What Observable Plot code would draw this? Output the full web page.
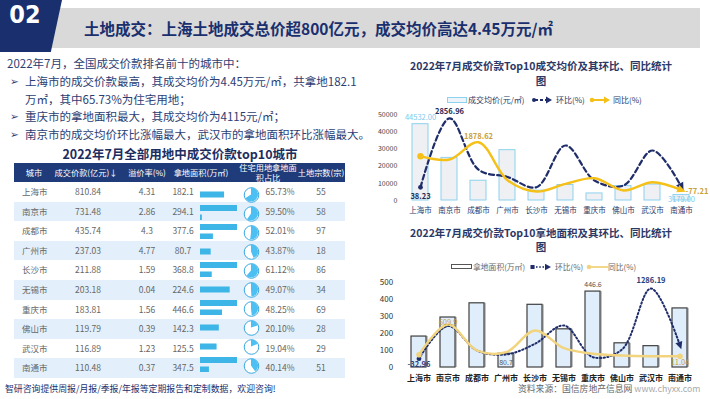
<!DOCTYPE html>
<html><head><meta charset="utf-8">
<script src="https://cdn.jsdelivr.net/npm/d3@7"></script>
<script src="https://cdn.jsdelivr.net/npm/@observablehq/plot@0.6"></script>
<style>
html,body{margin:0;padding:0;}
body{width:710px;height:399px;position:relative;overflow:hidden;background:#fff;font-family:"Noto Sans CJK SC","Noto Sans",sans-serif;}
</style></head><body>
<script>
// ---------- data ----------
const cities = ["上海市","南京市","成都市","广州市","长沙市","无锡市","重庆市","佛山市","武汉市","南通市"];
const dealValue = [810.84,731.48,435.74,237.03,211.88,203.18,183.81,119.79,116.89,110.48];
const premiumRate = [4.31,2.86,4.3,4.77,1.59,0.04,1.56,0.39,1.23,0.37];
const landArea = [182.1,294.1,377.6,80.7,368.8,224.6,446.6,142.3,125.5,347.5];
const residentialShare = [65.73,59.50,52.01,43.87,61.12,49.07,48.25,20.10,19.04,40.14];
const parcelCount = [55,58,97,18,86,34,69,28,29,51];
const avgPrice = [44532,24870,11540,29370,5745,9046,4115,8418,9314,3179];
const priceMoM = [38.23,2856.96,760,460,43,1746,317,113,1542,43];
const priceYoY = [1309,1174,1878.62,330,-132,182,411,-92,247,-77.21];
const areaMoM = [-32.96,580,120,45,246,590,-6,139,1286.19,214];
const areaYoY = [39,609.9,120,88,496,163,58,26,13,11.04];
const priceTicks = [0,10000,20000,30000,40000,50000];
const areaTicks = [0,100,200,300,400,500];
const tableHeaders = ["城市","成交价款(亿元)↓","溢价率(%)","拿地面积(万㎡)","住宅用地拿地面\n积占比","土地宗数(宗)"];

// ---------- helpers ----------
const FONT = '"Noto Sans CJK SC","Noto Sans",sans-serif';
const NS = "http://www.w3.org/2000/svg";
const NAVY = "#1f2d6b", GOLD = "#f5c018", GOLD2 = "#f2d47e", LABELGOLD = "#c9a13a";
const root = document.body;
function el(tag, css, text){const e=document.createElement(tag);e.style.cssText="position:absolute;"+css;if(text!=null)e.textContent=text;root.appendChild(e);return e;}
function place(svg, left, top){const d=el("div",`left:${left}px;top:${top}px;`);d.appendChild(svg);return d;}
function svgBox(left, top, w, h, inner){const s=document.createElementNS(NS,"svg");s.setAttribute("width",w);s.setAttribute("height",h);s.style.cssText=`position:absolute;left:${left}px;top:${top}px;overflow:visible`;s.innerHTML=inner;root.appendChild(s);return s;}
function styleAxis(svg, axis, css){svg.querySelectorAll(`g[aria-label^="${axis}-axis"] text`).forEach(t=>Object.assign(t.style,css));}
function arrowMarker(size){return (color)=>{const m=document.createElementNS(NS,"marker");m.setAttribute("viewBox","-5 -5 10 10");m.setAttribute("markerWidth",size);m.setAttribute("markerHeight",size);m.setAttribute("markerUnits","userSpaceOnUse");m.setAttribute("orient","auto");m.setAttribute("fill",color);m.setAttribute("stroke","none");m.setAttribute("stroke-dasharray","none");const p=document.createElementNS(NS,"path");p.setAttribute("d","M-4,-4L4.5,0L-4,4Z");m.appendChild(p);return m;};}
function dotMarker(size){return (color)=>{const m=document.createElementNS(NS,"marker");m.setAttribute("viewBox","-5 -5 10 10");m.setAttribute("markerWidth",size);m.setAttribute("markerHeight",size);m.setAttribute("markerUnits","userSpaceOnUse");m.setAttribute("fill",color);m.setAttribute("stroke","none");const c=document.createElementNS(NS,"circle");c.setAttribute("r",4);m.appendChild(c);return m;};}
function safePlot(build){try{return build(true);}catch(e){return build(false);}}

// ---------- header ----------
el("div","left:48px;top:8px;width:652px;height:40px;background:#d9d9d9;");
el("div","left:0;top:0;width:62px;height:52px;background:#1a2f6e;clip-path:polygon(0 0,100% 0,82% 100%,0 100%);");
el("div",'left:0;top:0;width:50px;height:52px;line-height:52px;text-align:center;color:#fff;font:bold 25px "DejaVu Sans Condensed","DejaVu Sans",sans-serif;',"02");
el("div",`left:84px;top:14px;line-height:28px;font-size:15.5px;font-weight:bold;color:#1a2f6e;white-space:nowrap;`,"土地成交：上海土地成交总价超800亿元，成交均价高达4.45万元/㎡");

// ---------- summary text ----------
const TXT = "#2c3d73";
const lines = [
  [7,null,"2022年7月，全国成交价款排名前十的城市中："],
  [25,"➢","上海市的成交价款最高，其成交均价为4.45万元/㎡，共拿地182.1"],
  [25,null,"万㎡，其中65.73%为住宅用地；"],
  [25,"➢","重庆市的拿地面积最大，其成交均价为4115元/㎡；"],
  [25,"➢","南京市的成交均价环比涨幅最大，武汉市的拿地面积环比涨幅最大。"]
];
lines.forEach((l,i)=>{
  const top = 55.2 + i*17.75;
  if(l[1]) el("div",`left:10px;top:${top}px;line-height:17.75px;font-size:10.5px;color:${TXT};font-family:"DejaVu Sans",sans-serif;`,l[1]);
  el("div",`left:${l[0]}px;top:${top}px;line-height:17.75px;font-size:11.5px;color:${TXT};white-space:nowrap;`,l[2]);
});

// ---------- table ----------
el("div",`left:30px;top:145px;width:300px;text-align:center;line-height:18px;font-size:12.5px;font-weight:bold;color:#1d2d5e;`,"2022年7月全部用地中成交价款top10城市");
el("div","left:14px;top:163px;width:331px;height:19px;background:#1f3b7a;");
const headCenters = [34,86,147,201,268,321];
tableHeaders.forEach((h,i)=>{
  const two = h.includes("\n");
  el("div",`left:${headCenters[i]-40}px;width:80px;top:163px;height:19px;line-height:${two?9.5:19}px;text-align:center;font-size:8.2px;color:#fff;white-space:pre;`,h);
});
const tTop = 182, rowH = 19.6;
cities.forEach((c,i)=>{
  const top = tTop + i*rowH;
  if(i%2===1) el("div",`left:14px;top:${top}px;width:331px;height:${rowH}px;background:#e3f0fb;`);
  const base = `top:${top}px;height:${rowH}px;line-height:${rowH}px;font-size:8.5px;color:#666;`;
  el("div",`left:22px;${base}`,c);
  const cell=(cx,txt)=>el("div",`left:${cx-30}px;width:60px;text-align:center;${base}`,txt);
  cell(88,dealValue[i].toFixed(2));
  cell(147,String(premiumRate[i]));
  cell(183,landArea[i].toFixed(1));
  cell(280,residentialShare[i].toFixed(2)+"%");
  cell(321,String(parcelCount[i]));
});
const tbl = cities.map((c,i)=>({city:c, area:landArea[i], share:residentialShare[i]}));
const barCap = 280;
const barPlot = Plot.plot({
  width:42, height:196, marginLeft:2, marginRight:3, marginTop:0, marginBottom:0,
  style:{background:"transparent"},
  x:{domain:[0,barCap], axis:null},
  y:{type:"band", domain:cities, padding:0, axis:null},
  marks:[
    Plot.barX(tbl.filter(d=>d.area<=barCap),{y:"city",x:"area",fill:"#3db5e6",insetTop:6.5,insetBottom:6.5}),
    Plot.barX(tbl.filter(d=>d.area>barCap),{y:"city",x:d=>Math.min(d.area,barCap),fill:"#3db5e6",insetTop:1,insetBottom:12}),
    Plot.barX(tbl.filter(d=>d.area>barCap),{y:"city",x:d=>d.area-barCap,fill:"#3db5e6",insetTop:10.5,insetBottom:3})
  ]
});
place(barPlot,198,tTop);
function pieRender(){
  const args = Array.from(arguments);
  const sc = args.find(a=>a && typeof a.y==="function");
  const g = d3.create("svg:g");
  if(!sc) return g.node();
  const bw = typeof sc.y.bandwidth==="function" ? sc.y.bandwidth() : 0;
  const arc = d3.arc().innerRadius(0).outerRadius(7);
  tbl.forEach(d=>{
    g.append("path").attr("transform",`translate(11,${sc.y(d.city)+bw/2})`)
      .attr("d",arc({startAngle:0,endAngle:2*Math.PI*d.share/100}))
      .attr("fill","#4cc0f2");
  });
  return g.node();
}
const piePlot = Plot.plot({
  width:22, height:196, margin:0,
  style:{background:"transparent",overflow:"visible"},
  x:{domain:[0,1],axis:null},
  y:{type:"band", domain:cities, padding:0, axis:null},
  marks:[
    Plot.dot(tbl,{x:()=>0.5,y:"city",r:7.3,fill:"#fff",stroke:"#3aa8e0",strokeWidth:1}),
    pieRender
  ]
});
place(piePlot,240,tTop);

// ---------- chart 1 ----------
el("div",`left:391px;top:57.5px;width:300px;text-align:center;line-height:15px;font-size:10.5px;font-weight:bold;color:#2b3866;`,"");
root.lastChild.innerHTML = "2022年7月成交价款Top10成交均价及其环比、同比统计<br>图";
svgBox(447,97,20,6,`<rect x="0.5" y="0.5" width="19" height="5" fill="#eef5fa" stroke="#8ed2ee"/>`);
el("div",`left:468px;top:94px;line-height:12px;font-size:8px;color:#2b3866;white-space:nowrap;`,"成交均价(元/㎡)");
svgBox(531,95,22,10,`<line x1="4" y1="5" x2="16" y2="5" stroke="${NAVY}" stroke-width="2" stroke-dasharray="3,2"/><circle cx="3" cy="5" r="2" fill="${NAVY}"/><path d="M15,1.5L21,5L15,8.5Z" fill="${NAVY}"/>`);
el("div",`left:556px;top:94px;line-height:12px;font-size:8px;color:#2b3866;white-space:nowrap;`,"环比(%)");
svgBox(589,95,22,10,`<line x1="3" y1="5" x2="16" y2="5" stroke="${GOLD}" stroke-width="2"/><circle cx="3" cy="5" r="2.3" fill="${GOLD}"/><path d="M15,1.5L21,5L15,8.5Z" fill="${GOLD}"/>`);
el("div",`left:613px;top:94px;line-height:12px;font-size:8px;color:#2b3866;white-space:nowrap;`,"同比(%)");

const priceRows = cities.map((c,i)=>({city:c, price:avgPrice[i], mom:priceMoM[i], yoy:priceYoY[i]}));
const dims1 = {width:350, height:117, marginLeft:38.9, marginRight:7.2, marginTop:9.3, marginBottom:22};
const chart1 = Plot.plot({
  ...dims1,
  style:{background:"transparent", fontFamily:FONT, fontSize:"7.5px", color:"#2b3866", overflow:"visible"},
  x:{type:"band", domain:cities, padding:0.45, tickSize:0, tickPadding:7, label:null},
  y:{domain:[0,50000], ticks:priceTicks, tickFormat:d=>String(d), tickSize:0, tickPadding:2, label:null},
  marks:[
    Plot.barY(priceRows,{x:"city",y:"price",fill:"#eef0f4",stroke:"#8ed2ee",strokeWidth:1}),
    Plot.text([priceRows[0]],{x:"city",y:"price",text:d=>d.price.toFixed(2),dy:-7,fill:"#7ccbee",fontSize:7.5}),
    Plot.text([priceRows[priceRows.length-1]],{x:"city",y:"price",text:d=>d.price.toFixed(2),dy:5,fill:"#7ccbee",fontSize:7.5})
  ]
});
styleAxis(chart1,"y",{fontSize:"7px",fill:"#444"});
styleAxis(chart1,"x",{fontSize:"7.5px"});
place(chart1,360,105);
const maxMoM1 = priceRows.reduce((a,b)=>b.mom>a.mom?b:a);
const maxYoY1 = priceRows.reduce((a,b)=>b.yoy>a.yoy?b:a);
const lines1 = safePlot(custom=>Plot.plot({
  ...dims1,
  style:{background:"transparent", fontFamily:FONT, overflow:"visible"},
  x:{type:"band", domain:cities, padding:0.45, axis:null},
  y:{domain:[-500,3000], axis:null},
  marks:[
    Plot.line(priceRows,{x:"city",y:"mom",stroke:NAVY,strokeWidth:2.2,strokeDasharray:"5,3.2",curve:"catmull-rom",markerStart:custom?dotMarker(6):"dot",markerEnd:custom?arrowMarker(10):"arrow"}),
    Plot.line(priceRows,{x:"city",y:"yoy",stroke:GOLD,strokeWidth:2.4,curve:"catmull-rom",markerStart:custom?dotMarker(8):"dot",markerEnd:custom?arrowMarker(10):"arrow"}),
    Plot.text([maxMoM1],{x:"city",y:"mom",text:d=>d.mom.toFixed(2),dy:-7,fill:"#1f2d5a",fontWeight:"bold",fontSize:7.5}),
    Plot.text([priceRows[0]],{x:"city",y:"mom",text:d=>d.mom.toFixed(2),dy:9,fill:"#1f2d5a",fontWeight:"bold",fontSize:7.5}),
    Plot.text([maxYoY1],{x:"city",y:"yoy",text:d=>d.yoy.toFixed(2),dy:-6,fill:LABELGOLD,fontWeight:"bold",fontSize:7.5}),
    Plot.text([priceRows[priceRows.length-1]],{x:"city",y:"yoy",text:d=>d.yoy.toFixed(2),dx:4,dy:1,textAnchor:"start",fill:LABELGOLD,fontWeight:"bold",fontSize:7.5})
  ]
}));
place(lines1,360,105);

// ---------- chart 2 ----------
el("div",`left:391px;top:225.5px;width:300px;text-align:center;line-height:14.6px;font-size:10.5px;font-weight:bold;color:#2b3866;`,"");
root.lastChild.innerHTML = "2022年7月成交价款Top10拿地面积及其环比、同比统计<br>图";
svgBox(451,264,21,5,`<rect x="0.5" y="0.5" width="20" height="4" fill="#fff" stroke="#555"/>`);
el("div",`left:473px;top:260.5px;line-height:12px;font-size:7.8px;color:#666;white-space:nowrap;`,"拿地面积(万㎡)");
svgBox(529,262,24,10,`<line x1="4" y1="5" x2="17" y2="5" stroke="${NAVY}" stroke-width="1.8" stroke-dasharray="1.2,2"/><rect x="1.5" y="3" width="4" height="4" fill="${NAVY}"/><path d="M16,1.8L22,5L16,8.2Z" fill="${NAVY}"/>`);
el("div",`left:555px;top:260.5px;line-height:12px;font-size:7.8px;color:#666;white-space:nowrap;`,"环比(%)");
svgBox(586,262,22,10,`<line x1="3" y1="5" x2="22" y2="5" stroke="${GOLD2}" stroke-width="1.8"/><circle cx="3" cy="5" r="2.3" fill="${GOLD2}"/>`);
el("div",`left:608px;top:260.5px;line-height:12px;font-size:7.8px;color:#666;white-space:nowrap;`,"同比(%)");

const areaRows = cities.map((c,i)=>({city:c, area:landArea[i], mom:areaMoM[i], yoy:areaYoY[i]}));
const dims2 = {width:350, height:116, marginLeft:35.7, marginRight:6.7, marginTop:10, marginBottom:21};
const maxArea = areaRows.reduce((a,b)=>b.area>a.area?b:a);
const minArea = areaRows.reduce((a,b)=>b.area<a.area?b:a);
const chart2 = Plot.plot({
  ...dims2,
  style:{background:"transparent", fontFamily:FONT, fontSize:"8px", color:"#222", overflow:"visible"},
  x:{type:"band", domain:cities, padding:0.47, tickSize:0, tickPadding:8, label:null},
  y:{domain:[0,500], ticks:areaTicks, tickFormat:d=>String(d), tickSize:0, tickPadding:3, label:null},
  marks:[
    Plot.barY(areaRows,{x:"city",y:"area",fill:"#9a9a9a",fillOpacity:0.6,dx:2}),
    Plot.barY(areaRows,{x:"city",y:"area",fill:"#dfeefa",stroke:"#404040",strokeWidth:1.2}),
    Plot.text([maxArea],{x:"city",y:"area",text:d=>d.area.toFixed(1),dy:-7,fill:"#555",fontSize:7}),
    Plot.text([minArea],{x:"city",y:"area",text:d=>d.area.toFixed(1),dy:9,fill:"#555",fontSize:7})
  ]
});
styleAxis(chart2,"y",{fontSize:"8px",fill:"#333"});
styleAxis(chart2,"x",{fontWeight:"bold",fontSize:"8px"});
place(chart2,360,272);
const maxMoM2 = areaRows.reduce((a,b)=>b.mom>a.mom?b:a);
const maxYoY2 = areaRows.reduce((a,b)=>b.yoy>a.yoy?b:a);
const lines2 = safePlot(custom=>Plot.plot({
  ...dims2,
  style:{background:"transparent", fontFamily:FONT, overflow:"visible"},
  x:{type:"band", domain:cities, padding:0.47, axis:null},
  y:{domain:[-200,1400], axis:null},
  marks:[
    Plot.line(areaRows,{x:"city",y:"mom",stroke:NAVY,strokeWidth:2,strokeDasharray:"1.3,2.4",curve:"catmull-rom",markerStart:custom?dotMarker(6):"dot",markerEnd:custom?arrowMarker(9):"arrow"}),
    Plot.line(areaRows,{x:"city",y:"yoy",stroke:GOLD2,strokeWidth:2.4,curve:"catmull-rom",markerStart:custom?dotMarker(7):"dot",markerEnd:custom?dotMarker(7):"dot"}),
    Plot.text([areaRows[0]],{x:"city",y:"mom",text:d=>String(d.mom),dy:6,fill:"#2c3e7a",fontWeight:"bold",fontSize:7.5}),
    Plot.text([maxMoM2],{x:"city",y:"mom",text:d=>String(d.mom),dy:-8,fill:"#2c3e7a",fontWeight:"bold",fontSize:7.5}),
    Plot.text([maxYoY2],{x:"city",y:"yoy",text:d=>String(d.yoy),dy:-2,fill:LABELGOLD,fontSize:7.5}),
    Plot.text([areaRows[areaRows.length-1]],{x:"city",y:"yoy",text:d=>String(d.yoy),dy:6,fill:LABELGOLD,fontSize:7.5})
  ]
}));
place(lines2,360,272);

// ---------- footer ----------
el("div",`left:5px;top:382px;line-height:14px;font-size:8.9px;color:#1a2f6e;white-space:nowrap;`,"智研咨询提供周报/月报/季报/年报等定期报告和定制数据，欢迎咨询!");
const src = el("div",`left:518px;top:382px;line-height:14px;font-size:8.8px;color:#666;white-space:nowrap;`,"");
src.innerHTML = '资料来源：国信房地产信息网 <span style="color:#aaa">www.chyxx.com</span>';
</script>
</body></html>
